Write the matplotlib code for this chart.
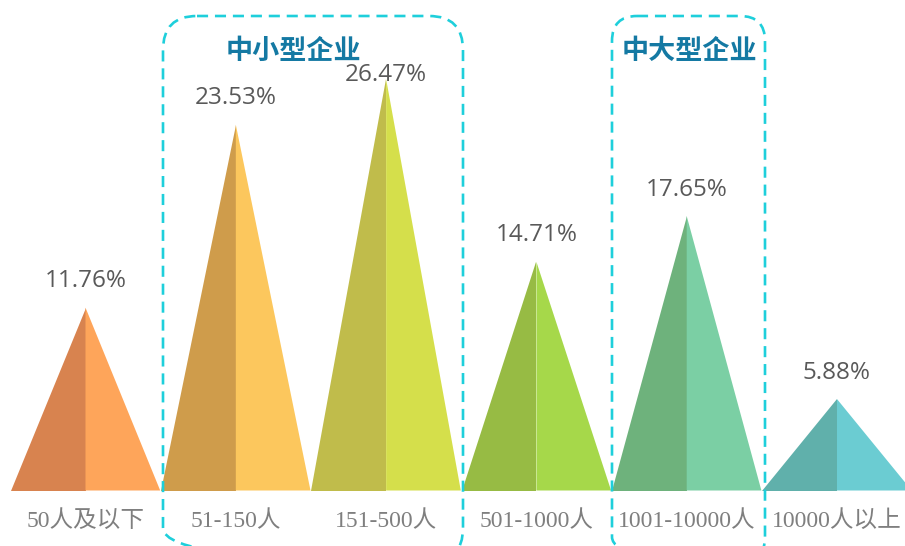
import matplotlib
matplotlib.use("Agg")
import matplotlib.pyplot as plt
from matplotlib.patches import Polygon, FancyBboxPatch

categories = ["50人及以下", "51-150人", "151-500人", "501-1000人", "1001-10000人", "10000人以上"]
values = [11.76, 23.53, 26.47, 14.71, 17.65, 5.88]
dark_colors = ["#D8834F", "#CF9C4B", "#C0BC4B", "#97BB44", "#6EB27C", "#60B0AB"]
light_colors = ["#FEA55A", "#FCC75D", "#D5DF4B", "#A6D84A", "#7BCFA4", "#6BCCD2"]
group_titles = ["中小型企业", "中大型企业"]

W, H = 905, 546
fig = plt.figure(figsize=(W / 100, H / 100), dpi=100)

base_px = 490.5
px_per_unit = 15.55
ax = fig.add_axes([0, (H - base_px) / H, 1, base_px / H])
ax.set_ylim(0, base_px / px_per_unit)
x0, step = 85.5, 150.3
ax.set_xlim(-x0 / step, (W - x0) / step)
ax.axis("off")

hw = 0.497
ax.plot([-hw, 10], [-0.07, -0.07], color="#D9D9D9", lw=1.8, zorder=1, solid_capstyle="butt")
for i, v in enumerate(values):
    ax.add_patch(Polygon([(i - hw, 0), (i, 0), (i, v)], closed=True,
                         facecolor=dark_colors[i], edgecolor="none", zorder=2))
    ax.add_patch(Polygon([(i, 0), (i + hw, 0), (i, v)], closed=True,
                         facecolor=light_colors[i], edgecolor="none", zorder=2))
    ly = min(v + 1.7, 26.72)
    ax.text(i, ly, f"{v:.2f}%", ha="center", va="center", fontsize=17.5,
            color="#595959", family=["Open Sans", "DejaVu Sans"], zorder=3)

# overlay in pixel coordinates
ov = fig.add_axes([0, 0, 1, 1], facecolor="none")
ov.set_xlim(0, W)
ov.set_ylim(H, 0)
ov.axis("off")

for i, c in enumerate(categories):
    ov.text(x0 + step * i, 521, c, ha="center", va="center", fontsize=17,
            color="#7F7F7F", family=["Liberation Serif", "Noto Sans CJK SC"])

boxes = [(163, 463, 16, 562, 34), (612, 765, 16, 562, 25)]
for (l, r, t, b, rad) in boxes:
    p = FancyBboxPatch((l + rad, t + rad), (r - l) - 2 * rad, (b - t) - 2 * rad,
                       boxstyle=f"round,pad={rad},rounding_size={rad}",
                       facecolor="none", edgecolor="#1ECFDB", lw=1.9,
                       linestyle=(0, (4.2, 2.6)), clip_on=False, zorder=5)
    ov.add_patch(p)

title_x = [293, 689]
for tx, tt in zip(title_x, group_titles):
    ov.text(tx, 51, tt, ha="center", va="center", fontsize=19.5, fontweight="bold",
            color="#1479A3", family=["Noto Sans CJK SC", "DejaVu Sans"])

fig.savefig("out.png", dpi=100)
